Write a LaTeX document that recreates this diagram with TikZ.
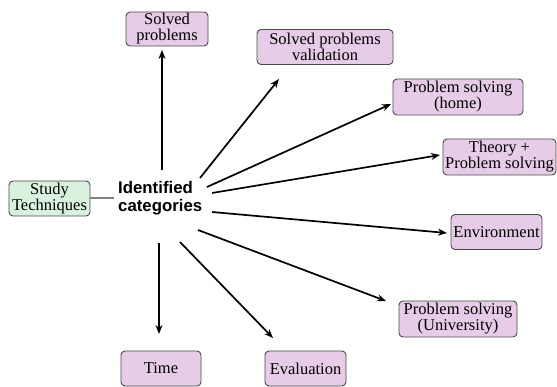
\documentclass[tikz,border=0pt]{standalone}
\usepackage{fontspec}
\setmainfont{Liberation Serif}
\newfontfamily\labsans{Liberation Sans}
\usetikzlibrary{arrows.meta}
\definecolor{boxfill}{HTML}{E6CCE6}
\definecolor{greenfill}{HTML}{D8F2DE}
\definecolor{boxline}{HTML}{4A4A4A}
\tikzset{
  cat/.style={draw=boxline, fill=boxfill, rounded corners=4pt, line width=0.9pt,
    align=center, inner sep=0pt, font=\fontsize{16.5}{16}\selectfont},
  study/.style={cat, fill=greenfill},
  arr/.style={-{Stealth[length=9pt,width=7pt]}, line width=1.7pt, black},
}
\begin{document}
\begin{tikzpicture}[x=1pt,y=-1pt]
\useasboundingbox (0,0) rectangle (557,387);
\node[cat, minimum width=82pt, minimum height=34pt] (sp) at (167,29) {Solved\\problems};
\node[cat, minimum width=136pt, minimum height=35pt] (spv) at (325,47) {Solved problems\\validation};
\node[cat, minimum width=130pt, minimum height=36pt] (psh) at (458,97) {Problem solving\\(home)};
\node[cat, minimum width=113pt, minimum height=36pt] (tps) at (499.5,157) {Theory +\\Problem solving};
\node[cat, minimum width=91pt, minimum height=35pt] (env) at (496.5,232) {Environment};
\node[cat, minimum width=118pt, minimum height=36pt] (psu) at (458,319) {Problem solving\\(University)};
\node[cat, minimum width=80pt, minimum height=35pt] (time) at (161,368.5) {Time};
\node[cat, minimum width=81pt, minimum height=35pt] (eval) at (305.5,368.5) {Evaluation};
\node[study, minimum width=81pt, minimum height=35pt] (st) at (49.5,198.5) {Study\\Techniques};
\node[font=\labsans\bfseries\fontsize{16.8}{17.5}\selectfont, align=left, inner sep=0pt, anchor=west] (ic) at (118,198) {Identified\\categories};
\coordinate (c1) at (162,170);
\coordinate (c2) at (200,178);
\coordinate (c3) at (207,187);
\coordinate (c4) at (212,193);
\coordinate (c5) at (212,212);
\coordinate (c6) at (198,230);
\coordinate (c7) at (180,242);
\coordinate (c8) at (159,243);
\coordinate (e1) at (162,50);
\coordinate (e2) at (279,79);
\coordinate (e3) at (391,104);
\coordinate (e4) at (440,155);
\coordinate (e5) at (447,233);
\coordinate (e6) at (386,301);
\coordinate (e7) at (273,338);
\coordinate (e8) at (159,334);
\draw[arr] (c1) -- (e1);
\draw[arr] (c2) -- (e2);
\draw[arr] (c3) -- (e3);
\draw[arr] (c4) -- (e4);
\draw[arr] (c5) -- (e5);
\draw[arr] (c6) -- (e6);
\draw[arr] (c7) -- (e7);
\draw[arr] (c8) -- (e8);
\draw[gray, line width=2pt] (st.east) -- ++(24,0);
\end{tikzpicture}
\end{document}
